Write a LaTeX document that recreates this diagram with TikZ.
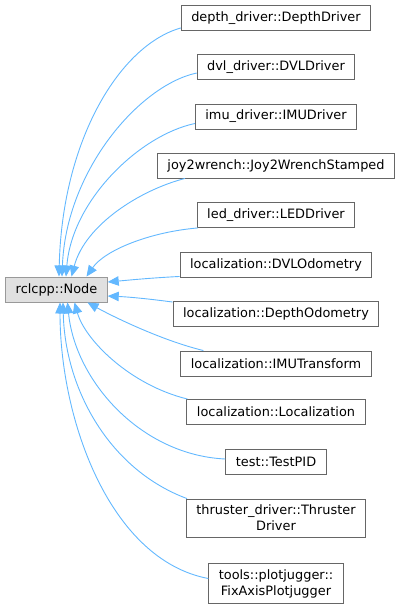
\documentclass[tikz,border=0pt]{standalone}
\usepackage{fontspec}
\setmainfont{DejaVu Sans}
\usetikzlibrary{arrows.meta}
\definecolor{edgeblue}{HTML}{63B8FF}
\definecolor{boxline}{HTML}{666666}
\definecolor{baseline}{HTML}{999999}
\definecolor{basefill}{HTML}{E0E0E0}
\tikzset{
  clsbox/.style={draw=boxline, fill=white, line width=0.9pt, align=center,
    font=\fontsize{12.9}{16}\selectfont, inner xsep=10pt, inner ysep=6pt,
    minimum height=25pt},
  basebox/.style={clsbox, draw=baseline, fill=basefill},
  inherit/.style={draw=edgeblue, line width=0.9pt,
    -{Triangle[length=11pt,width=9.5pt,fill=edgeblue]}}
}
\begin{document}
\begin{tikzpicture}[x=1pt, y=-1pt]
  \useasboundingbox (0,0) rectangle (401,609);
  % base class
  \node[basebox] (rclnode) at (56.5,289.5) {rclcpp::Node};
  % derived classes
  \node[clsbox] (depthdrv) at (276,18) {depth\_driver::DepthDriver};
  \node[clsbox] (dvldrv) at (276,67) {dvl\_driver::DVLDriver};
  \node[clsbox] (imudrv) at (276,116.5) {imu\_driver::IMUDriver};
  \node[clsbox] (joywrench) at (276,165.5) {joy2wrench::Joy2WrenchStamped};
  \node[clsbox] (leddrv) at (276,215) {led\_driver::LEDDriver};
  \node[clsbox] (dvlodom) at (276,264.5) {localization::DVLOdometry};
  \node[clsbox] (depthodom) at (276,314) {localization::DepthOdometry};
  \node[clsbox] (imutf) at (276,363.5) {localization::IMUTransform};
  \node[clsbox] (loc) at (276,412) {localization::Localization};
  \node[clsbox] (testpid) at (276,461.5) {test::TestPID};
  \node[clsbox] (thruster) at (276,518) {thruster\_driver::Thruster\\Driver};
  \node[clsbox] (plotjug) at (276,583.5) {tools::plotjugger::\\FixAxisPlotjugger};
  % inheritance edges
  \draw[inherit] ([yshift=3pt]depthdrv.south west) .. controls (120,45) and (62,140) .. ([xshift=2.5pt]rclnode.north);
  \draw[inherit] ([yshift=-6pt]dvldrv.west) .. controls (140,85) and (66,170) .. ([xshift=5.5pt]rclnode.north);
  \draw[inherit] ([yshift=-7pt]imudrv.west) .. controls (140,135) and (72,200) .. ([xshift=9.5pt]rclnode.north);
  \draw[inherit] ([xshift=28pt]joywrench.south west) .. controls (140,190) and (85,225) .. ([xshift=15pt]rclnode.north);
  \draw[inherit] ([xshift=1pt]leddrv.south west) .. controls (150,232) and (105,250) .. ([xshift=30pt]rclnode.north);
  \draw[inherit] ([yshift=1pt]dvlodom.south west) .. controls (150,278) and (130,280) .. ([yshift=7.5pt]rclnode.east);
  \draw[inherit] ([yshift=-1pt]depthodom.north west) .. controls (150,299) and (130,297) .. ([yshift=-6.5pt]rclnode.east);
  \draw[inherit] ([xshift=23pt]imutf.north west) .. controls (160,340) and (110,315) .. ([xshift=31pt]rclnode.south);
  \draw[inherit] ([xshift=1pt]loc.north west) .. controls (130,385) and (85,340) .. ([xshift=18pt]rclnode.south);
  \draw[inherit] ([yshift=2.5pt]testpid.west) .. controls (140,455) and (75,380) .. ([xshift=11pt]rclnode.south);
  \draw[inherit] ([xshift=1pt]thruster.north west) .. controls (110,470) and (65,390) .. ([xshift=6.5pt]rclnode.south);
  \draw[inherit] ([yshift=5pt]plotjug.west) .. controls (110,560) and (60,420) .. ([xshift=3.5pt]rclnode.south);
\end{tikzpicture}
\end{document}
